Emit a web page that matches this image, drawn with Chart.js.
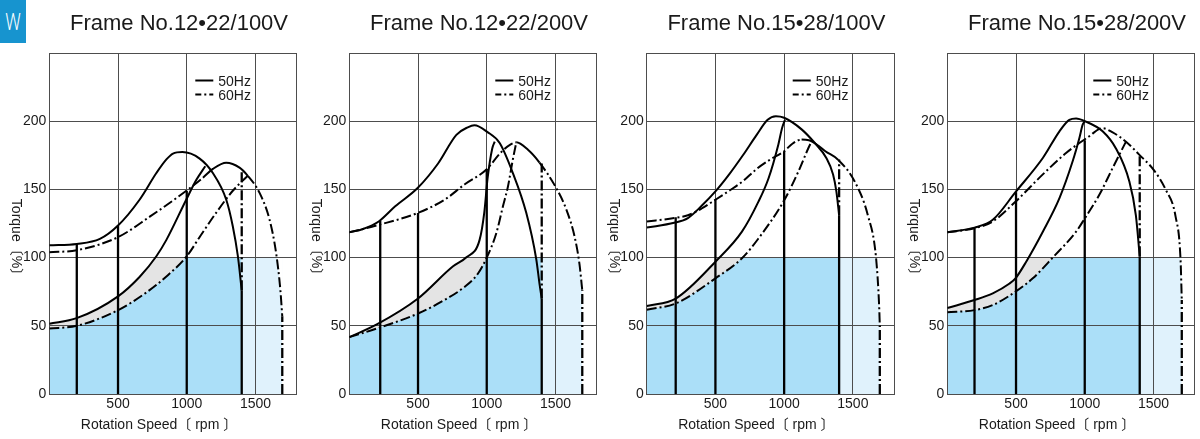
<!DOCTYPE html>
<html>
<head>
<meta charset="utf-8">
<script src="https://cdn.jsdelivr.net/npm/chart.js@4"></script>
<style>
  body { margin: 0; background: #fff; }
  #wrap { position: relative; width: 1200px; height: 439px; overflow: hidden; }
  canvas { position: absolute; top: 0; }
  #badge { position: absolute; left: 0; top: 0; width: 26px; height: 43px; background: #1794cf; }
  #badge span { position: absolute; left: 0; width: 26px; top: 8px; color: #fff; font: 300 24px Roboto, "Liberation Sans", sans-serif; text-align: center; transform: scaleX(0.72); }
</style>
</head>
<body>
<div id="wrap">
  <div id="badge"><span>W</span></div>
  <canvas id="c0" width="300" height="439" style="left:0px"></canvas>
  <canvas id="c1" width="300" height="439" style="left:300px"></canvas>
  <canvas id="c2" width="300" height="439" style="left:597px"></canvas>
  <canvas id="c3" width="300" height="439" style="left:898px"></canvas>
</div>
<script>
// torque curves, [rpm, %] - one entry per frame
const titles = ['Frame No.12•22/100V', 'Frame No.12•22/200V', 'Frame No.15•28/100V', 'Frame No.15•28/200V']
const xTitle = 'Rotation Speed〔 rpm 〕'
const yTitle = 'Torque〔%〕'
const seriesNames = ['50Hz', '60Hz']
const xTicks = [0, 500, 1000, 1500, 1800]
const xLabels = [500, 1000, 1500]
const yTicks = [0, 50, 100, 150, 200, 250]
const yLabels = [0, 50, 100, 150, 200]
const ratedTorque = 100

const hi50 = [
    [[0, 109], [200, 110], [368, 113.7], [500, 123.5], [658, 142.6], [779, 162], [852, 172], [900, 176.3], [968, 177.4], [1094, 172.6], [1190, 162], [1287, 142.6], [1335, 123], [1372, 101], [1400, 76]],
    [[0, 118.5], [100, 121], [214, 126.5], [334, 137.6], [497, 151], [646, 169], [779, 190], [862, 195.5], [910, 197], [1006, 192], [1094, 184], [1190, 162], [1287, 133], [1360, 99], [1385, 80], [1400, 70]],
    [[0, 122], [200, 125.5], [300, 129], [400, 138], [500, 148.5], [600, 161], [700, 175], [800, 190], [880, 201], [940, 203.6], [1000, 202.5], [1127, 194], [1223, 184], [1307, 173], [1356, 161], [1380, 148.5], [1400, 131]],
    [[0, 118.6], [198, 122], [331, 127.7], [496, 148], [695, 173], [816, 192.6], [888, 201], [937, 202], [1002, 200], [1130, 192.6], [1227, 180], [1324, 156], [1372, 131], [1400, 101]]
]
const hi60 = [
    [[0, 104], [199, 105.4], [500, 115], [731, 130], [997, 149], [1118, 158.6], [1190, 165], [1287, 169.6], [1384, 166], [1444, 160], [1529, 147.6], [1602, 128], [1650, 103.5], [1681, 76.5], [1695, 57]],
    [[0, 118.5], [214, 124], [497, 132.7], [694, 142.5], [838, 153.6], [998, 164.6], [1102, 177], [1174, 183], [1215, 184.5], [1300, 179], [1384, 169.6], [1500, 152], [1580, 135], [1640, 115], [1675, 95], [1695, 76]],
    [[0, 126.5], [200, 129], [300, 131], [400, 136], [500, 142.4], [600, 149], [700, 156], [800, 165], [900, 172], [1000, 178], [1060, 183.5], [1127, 186.5], [1180, 186], [1250, 182], [1300, 178], [1392, 171.8], [1512, 156], [1609, 131], [1669, 99.5], [1691, 65], [1696, 50]],
    [[0, 118.6], [198, 121.5], [331, 126.5], [496, 141], [695, 161], [864, 176.7], [961, 184], [1033, 189], [1106, 194.4], [1130, 194.8], [1200, 192], [1300, 185], [1396, 175.5], [1500, 164.5], [1588, 150], [1661, 130], [1697, 98.5], [1706, 69]]
]
// part of the 60Hz curve that is drawn solid
const solid60 = [[1118, 1444], [1215, 1384], [1127, 1392], null]
const lo50 = [
    [[0, 51.5], [199, 55.6], [500, 71.6], [658, 86], [779, 101], [852, 113], [997, 142.6], [1070, 157], [1135, 167]],
    [[0, 41.7], [200, 51], [500, 70], [755, 93.6], [852, 100.2], [948, 113], [982, 133], [1006, 158], [1040, 180], [1058, 185]],
    [[0, 64.5], [211, 70], [500, 97], [693, 119], [813, 141], [886, 158], [958, 183], [985, 195], [1006, 201]],
    [[0, 63], [198, 68.9], [331, 73.8], [453, 81], [496, 84.8], [574, 97], [695, 119], [816, 143.6], [912, 170.6], [961, 187.7], [985, 197.5], [1002, 200]]
]
const lo60 = [
    [[0, 48], [200, 50], [500, 61.5], [700, 74], [850, 86], [1000, 101], [1100, 116], [1215, 133], [1335, 149], [1444, 160]],
    [[0, 41.7], [200, 48], [500, 59], [694, 69], [838, 78.5], [934, 88], [1000, 100], [1070, 118], [1118, 137.7], [1154, 152], [1190, 172], [1215, 184.5]],
    [[0, 61.8], [211, 66.4], [500, 84.8], [693, 99.5], [813, 114], [1000, 142], [1103, 163], [1175, 180], [1204, 186]],
    [[0, 60], [198, 61.5], [331, 65.2], [496, 75], [622, 84.8], [767, 100], [937, 119], [1002, 129], [1106, 146], [1203, 165.7], [1300, 185]]
]
// vertical lines [rpm, from %, to %]
const vSolid = [
    [[200, 0, 110], [500, 0, 123.5], [1000, 0, 149], [1400, 0, 76]],
    [[225, 0, 127], [500, 0, 132.7], [1000, 0, 165], [1400, 0, 70]],
    [[211, 0, 129.5], [500, 0, 143], [1000, 0, 178], [1400, 0, 131]],
    [[198, 0, 122], [500, 0, 148], [1000, 0, 186], [1400, 0, 101]]
]
const vDash = [
    [[1400, 76, 165], [1695, 0, 57]],
    [[1400, 70, 169], [1695, 0, 76]],
    [[1400, 131, 172], [1696, 0, 50]],
    [[1400, 101, 176], [1706, 0, 69]]
]
const dropSpeed = [1400, 1400, 1400, 1400]
const endSpeed = [1695, 1695, 1696, 1706]

// layout per panel
const yAxisWidth = [49.3, 49.3, 49.7, 49.3]
const padRight = [3.3, 3.3, 2.9, 3.3]

const blue = '#abdff8'
const lightBlue = '#e0f2fc'
const gray = '#e4e4e4'
const gridColor = '#4d4d4d'
const dashDot = [10, 3, 2, 3]
const fontFamily = '"Liberation Sans", Arial, "Noto Sans CJK JP", sans-serif'

Chart.defaults.font.family = fontFamily

const pts = a => a.map(([x, y]) => ({ x: x, y: y }))

const panelText = {
    id: 'panelText',
    afterDraw(chart, args, opts) {
        let ctx = chart.ctx
        let a = chart.chartArea
        ctx.save()
        ctx.fillStyle = '#1a1a1a'
        ctx.textAlign = 'center'
        ctx.textBaseline = 'alphabetic'
        ctx.font = '22px ' + fontFamily
        ctx.fillText(opts.title, (a.left + a.right) / 2 + 6, 30)
        ctx.font = '14px ' + fontFamily
        ctx.fillText(xTitle, (a.left + a.right) / 2 - 14, 429)

        // legend
        ctx.textAlign = 'left'
        ctx.fillText(seriesNames[0], a.left + 169, a.top + 32.7)
        ctx.fillText(seriesNames[1], a.left + 169, a.top + 46.7)
        ctx.strokeStyle = '#000'
        ctx.lineWidth = 2
        ctx.beginPath()
        ctx.moveTo(a.left + 146, a.top + 27.5)
        ctx.lineTo(a.left + 164, a.top + 27.5)
        ctx.stroke()
        ctx.setLineDash([6, 3, 2, 3])
        ctx.beginPath()
        ctx.moveTo(a.left + 146, a.top + 41.5)
        ctx.lineTo(a.left + 164, a.top + 41.5)
        ctx.stroke()
        ctx.setLineDash([])

        ctx.textAlign = 'center'
        ctx.translate(a.left - 37, (a.top + a.bottom) / 2 + 17)
        ctx.rotate(Math.PI / 2)
        ctx.fillText(yTitle, 0, 0)
        ctx.restore()
    }
}

function makePanel(i) {
    let datasets = []
    let fillOnly = { borderColor: 'rgba(0,0,0,0)', borderWidth: 0, pointRadius: 0 }

    // coloured areas, painted before the grid
    datasets.push({ ...fillOnly, order: 10, data: pts([[0, ratedTorque], [dropSpeed[i], ratedTorque]]), fill: 'origin', backgroundColor: blue })
    datasets.push({ ...fillOnly, order: 10, data: pts([[dropSpeed[i], ratedTorque], [endSpeed[i], ratedTorque]]), fill: 'origin', backgroundColor: lightBlue })
    datasets.push({ ...fillOnly, order: 9, data: pts(lo60[i]), cubicInterpolationMode: 'monotone',
        fill: { target: { value: ratedTorque }, above: 'rgba(0,0,0,0)', below: gray } })
    datasets.push({ ...fillOnly, order: 8, data: pts(lo50[i]), cubicInterpolationMode: 'monotone',
        fill: { target: { value: ratedTorque }, above: 'rgba(0,0,0,0)', below: '#fff' } })
    datasets.push({ ...fillOnly, order: 8, data: pts(hi60[i]), cubicInterpolationMode: 'monotone',
        fill: { target: { value: ratedTorque }, above: 'rgba(0,0,0,0)', below: '#fff' } })

    let line = { borderColor: '#000', borderWidth: 2, pointRadius: 0, fill: false, order: 1, borderJoinStyle: 'round' }
    let range = solid60[i]
    datasets.push({ ...line, data: pts(hi50[i]), cubicInterpolationMode: 'monotone' })
    datasets.push({ ...line, data: pts(lo50[i]), cubicInterpolationMode: 'monotone' })
    datasets.push({ ...line, data: pts(lo60[i]), cubicInterpolationMode: 'monotone', borderDash: dashDot })
    datasets.push({ ...line, data: pts(hi60[i]), cubicInterpolationMode: 'monotone', borderDash: dashDot,
        segment: {
            borderDash: c => (range && c.p0.parsed.x >= range[0] && c.p1.parsed.x <= range[1]) ? [] : dashDot
        } })
    vSolid[i].forEach(v => {
        datasets.push({ ...line, borderWidth: 2.3, data: pts([[v[0], v[1]], [v[0], v[2]]]) })
    })
    vDash[i].forEach(v => {
        datasets.push({ ...line, borderWidth: 2.3, borderDash: dashDot, data: pts([[v[0], v[1]], [v[0], v[2]]]) })
    })

    let tickFont = { size: 14 }
    new Chart(document.getElementById('c' + i), {
        type: 'line',
        data: { datasets: datasets },
        plugins: [panelText],
        options: {
            responsive: false,
            animation: false,
            events: [],
            layout: { padding: { left: 0, right: padRight[i], top: 53, bottom: 0 } },
            plugins: {
                legend: { display: false },
                tooltip: { enabled: false },
                filler: { drawTime: 'beforeDraw' },
                panelText: { title: titles[i] }
            },
            scales: {
                x: {
                    type: 'linear', min: 0, max: 1800,
                    afterBuildTicks: ax => { ax.ticks = xTicks.map(v => ({ value: v })) },
                    afterFit: s => { s.height = 45 },
                    ticks: { callback: v => xLabels.includes(v) ? v : '', color: '#1a1a1a', font: tickFont, padding: 2, maxRotation: 0, autoSkip: false },
                    grid: { color: gridColor, lineWidth: 1, drawTicks: false },
                    border: { color: gridColor, width: 1 }
                },
                y: {
                    type: 'linear', min: 0, max: 250,
                    afterBuildTicks: ax => { ax.ticks = yTicks.map(v => ({ value: v })) },
                    afterFit: s => { s.width = yAxisWidth[i] },
                    ticks: { callback: v => yLabels.includes(v) ? v : '', color: '#1a1a1a', font: tickFont, padding: 3, autoSkip: false },
                    grid: { color: gridColor, lineWidth: 1, drawTicks: false },
                    border: { color: gridColor, width: 1 }
                }
            }
        }
    })
}

for (let i = 0; i < 4; i++) {
    makePanel(i)
}
</script>
</body>
</html>
